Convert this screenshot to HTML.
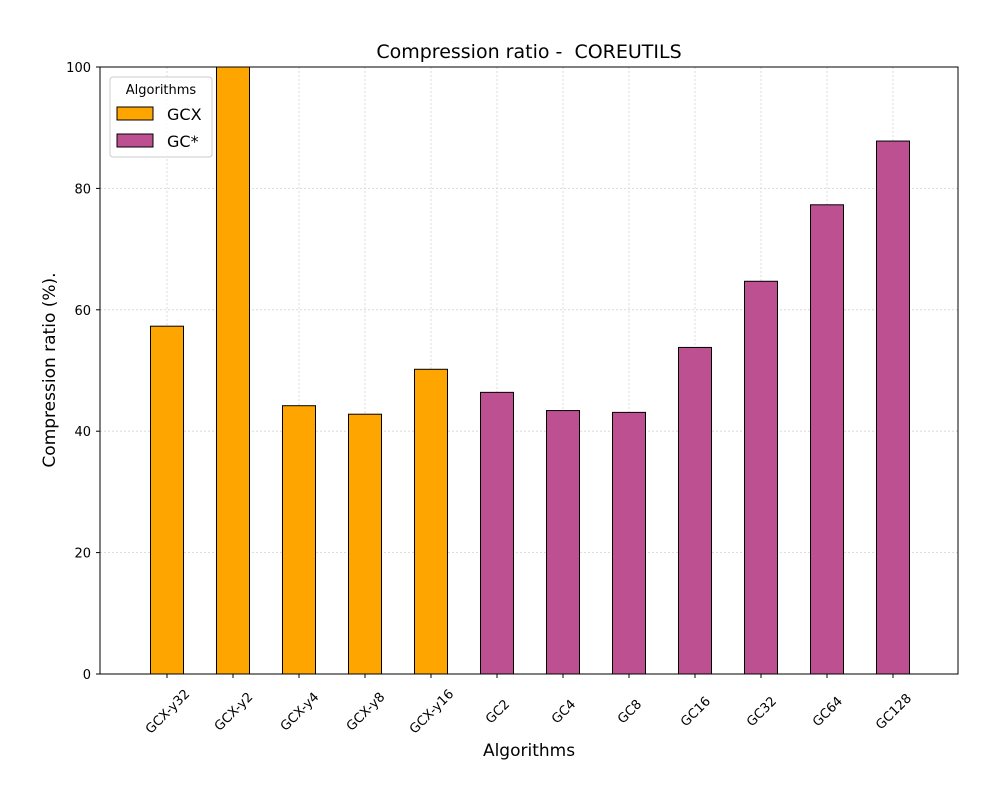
<!DOCTYPE html>
<html><head><meta charset="utf-8">
<style>
body{margin:0;background:#fff;}
svg text{font-family:"DejaVu Sans","Liberation Sans",sans-serif;}
</style></head>
<body>
<svg id="chart" width="1000" height="800" xmlns="http://www.w3.org/2000/svg">
<rect width="1000" height="800" fill="#fff"/>
<g id="grid"></g>
<g id="bars"></g>
<rect x="100" y="67" width="858" height="607" fill="none" stroke="#000" stroke-width="1"/>
<g id="axes"></g>
<text x="529" y="58" font-size="19" text-anchor="middle">Compression ratio - &#160;COREUTILS</text>
<text x="529" y="756" font-size="17" text-anchor="middle">Algorithms</text>
<text x="55" y="370" font-size="17" text-anchor="middle" transform="rotate(-90 55 370)">Compression ratio (%).</text>
<g>
<rect x="110" y="77" width="102" height="80" rx="3" fill="#fff" fill-opacity="0.8" stroke="#ccc"/>
<text x="161" y="94" font-size="13" text-anchor="middle">Algorithms</text>
<rect x="117" y="107" width="36" height="13" fill="#FFA500" stroke="#000"/>
<text x="167" y="120" font-size="16">GCX</text>
<rect x="117" y="134" width="36" height="13" fill="#BC5090" stroke="#000"/>
<text x="167" y="147" font-size="16">GC*</text>
</g>
</svg>
<script>
const categories=["GCX-y32","GCX-y2","GCX-y4","GCX-y8","GCX-y16","GC2","GC4","GC8","GC16","GC32","GC64","GC128"];
const values=[57.3,100,44.2,42.8,50.2,46.4,43.4,43.1,53.8,64.7,77.3,87.8];
const groups=["GCX","GCX","GCX","GCX","GCX","GC","GC","GC","GC","GC","GC","GC"];
const yTicks=[0,20,40,60,80,100];
const NS="http://www.w3.org/2000/svg";
const y=v=>674-v*6.07;
const x=i=>167+66*i;
const colors={GCX:"#FFA500",GC:"#BC5090"};
const grid=document.getElementById('grid'),bars=document.getElementById('bars'),axes=document.getElementById('axes');
function mk(tag,attrs,parent){const e=document.createElementNS(NS,tag);for(const k in attrs)e.setAttribute(k,attrs[k]);parent.appendChild(e);return e;}
yTicks.forEach(t=>{
  const g=mk('line',{x1:100,x2:958,y1:y(t),y2:y(t),stroke:"#d3d3d3","stroke-dasharray":"2,2","stroke-width":0.8},grid);
  
  
  const tk=mk('line',{x1:96,x2:100,y1:y(t),y2:y(t),stroke:"#000"},axes);
  
  
  const lb=mk('text',{x:91,y:y(t)+5,"font-size":13,"text-anchor":"end"},axes);
  lb.textContent=t;
  
  
});
categories.forEach((c,i)=>{
  const g=mk('line',{x1:x(i),x2:x(i),y1:67,y2:674,stroke:"#d3d3d3","stroke-dasharray":"2,2","stroke-width":0.8},grid);
  
  
  const v=Math.min(values[i],100);
  const b=mk('rect',{x:x(i)-16.5,y:y(v),width:33,height:674-y(v),fill:colors[groups[i]],stroke:"#000","stroke-width":1},bars);
  
  
  const tk=mk('line',{x1:x(i),x2:x(i),y1:674,y2:678,stroke:"#000"},axes);
  
  
  const lx=x(i),ly=711;
  const lb=mk('text',{x:lx,y:ly+5,"font-size":13,"text-anchor":"middle",transform:`rotate(-45 ${lx} ${ly})`},axes);
  lb.textContent=c;
  
  
});
</script>
</body></html>
